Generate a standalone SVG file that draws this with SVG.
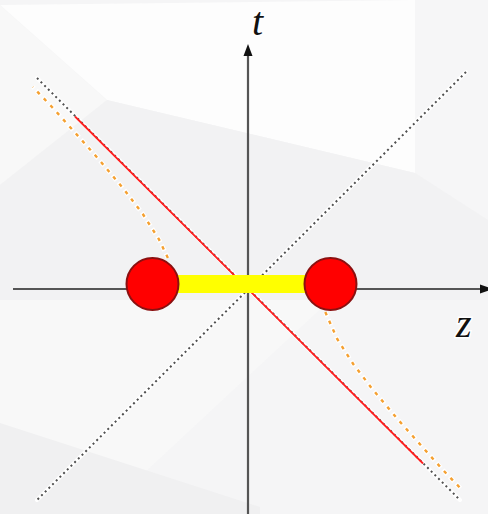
<svg xmlns="http://www.w3.org/2000/svg" width="488" height="514" viewBox="0 0 488 514">
<style>
.halo{fill:none;stroke:#ffffff;stroke-width:4;stroke-linecap:round}
.cone{fill:none;stroke:#505050;stroke-width:2;stroke-dasharray:2 3.2}
.hyp{fill:none;stroke:#f5a030;stroke-width:2.4;stroke-dasharray:3.5 6}
.hyphalo{fill:none;stroke:#ffffff;stroke-width:4.5;stroke-dasharray:6.5 3;stroke-dashoffset:1.5}
.axis{fill:none;stroke:#555555;stroke-width:2.2}
.ball{fill:#ff0000;stroke:#8a1010;stroke-width:2}
.lbl{font-family:"Liberation Serif","Times New Roman",serif;font-style:italic;font-size:40px;fill:#111111;stroke:#ffffff;stroke-width:3;paint-order:stroke}
</style>
<g id="background">
<rect x="0" y="0" width="488" height="514" fill="#f5f5f6"/>
<polygon points="0,5 107,100 415,173 415,0" fill="#fdfdfd"/>
<polygon points="0,5 107,100 0,185" fill="#f8f8f8"/>
<polygon points="415,0 488,0 488,220 415,173" fill="#f6f6f7"/>
<polygon points="0,185 107,100 415,173 488,220 488,300 330,300 0,300" fill="#f2f2f3"/>
<polygon points="330,300 100,514 0,514 0,300" fill="#f8f8f8"/>
<polygon points="0,423 260,507 260,514 0,514" fill="#f0f0f1"/>
</g>
<g id="connectors">
<g id="light-cone-1">
<line class="halo" x1="37" y1="78" x2="460" y2="500"/>
<line class="cone" x1="37" y1="78" x2="460" y2="500"/>
</g>
<g id="light-cone-2">
<line class="halo" x1="466" y1="72" x2="37" y2="500"/>
<line class="cone" x1="466" y1="72" x2="37" y2="500"/>
</g>
<g id="hyperbola-left">
<polyline class="hyphalo" points="167.9,258 158.8,239 142.8,214 123.7,189 98.5,159 71.8,129 52,107 32.9,87"/>
<polyline class="hyp" points="167.9,258 158.8,239 142.8,214 123.7,189 98.5,159 71.8,129 52,107 32.9,87"/>
</g>
<g id="hyperbola-right">
<polyline class="hyphalo" points="325.3,312 337.2,339 353.2,364 372.3,389 397.5,419 424.2,449 443,470 462.1,490"/>
<polyline class="hyp" points="325.3,312 337.2,339 353.2,364 372.3,389 397.5,419 424.2,449 443,470 462.1,490"/>
</g>
<line id="red-worldline" x1="75" y1="116.5" x2="423" y2="463.5" stroke="#ff2020" stroke-width="1.8"/>
<g id="t-axis">
<line class="axis" x1="248" y1="514" x2="248" y2="54"/>
<polygon points="248,44 243.5,56 252.5,56" fill="#111111"/>
</g>
<g id="z-axis">
<line class="axis" x1="13" y1="289" x2="482" y2="289"/>
<polygon points="493,289 480,284.5 480,293.5" fill="#111111"/>
</g>
</g>
<g id="string">
<rect x="176" y="275" width="132" height="18" fill="#ffff00"/>
</g>
<g id="ball-left">
<circle class="ball" cx="152.5" cy="284" r="26"/>
</g>
<g id="ball-right">
<circle class="ball" cx="330.5" cy="284" r="26"/>
</g>
<g id="labels">
<text class="lbl" x="252" y="35">t</text>
<text class="lbl" x="456" y="337" font-size="42">z</text>
</g>
</svg>
